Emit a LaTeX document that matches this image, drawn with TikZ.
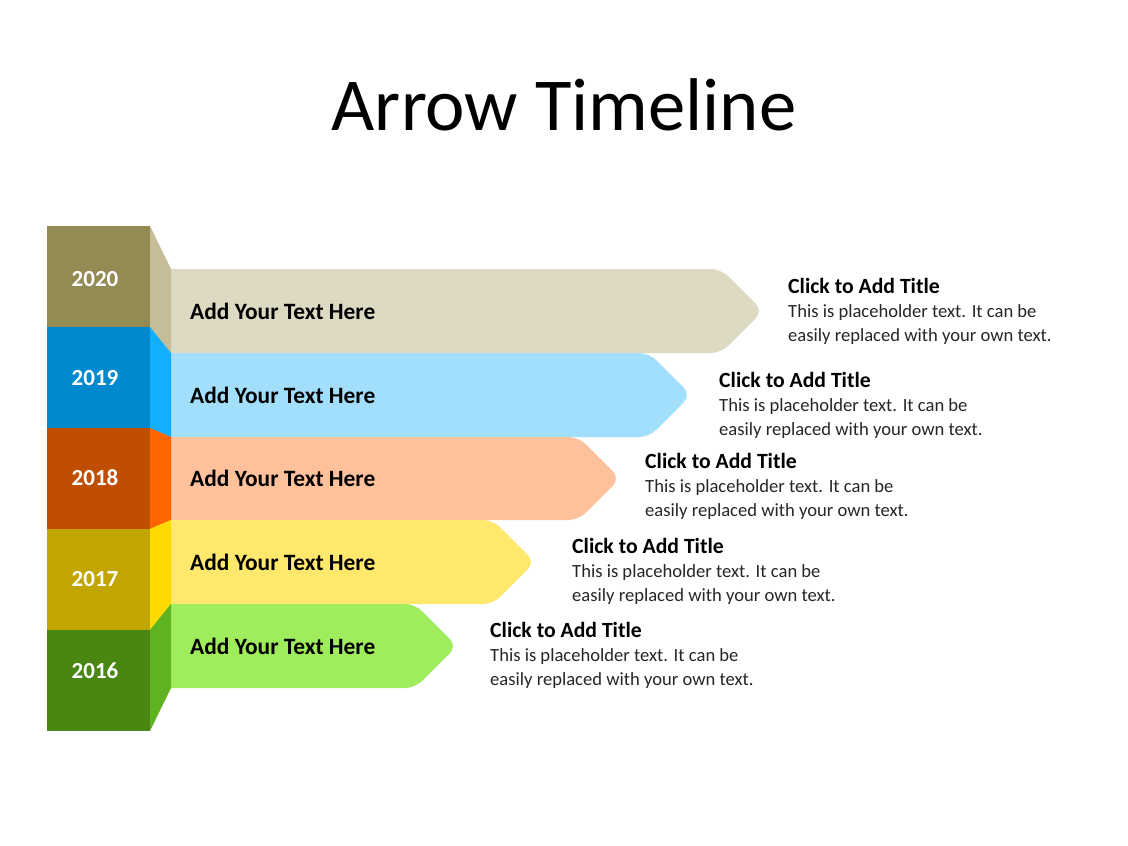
\documentclass[tikz,border=0pt]{standalone}
\usepackage{fontspec}
\setmainfont{Carlito}
\definecolor{darkA}{HTML}{948A54}\definecolor{midA}{HTML}{C4BD97}\definecolor{lightA}{HTML}{DDD9C3}
\definecolor{darkB}{HTML}{0089CF}\definecolor{midB}{HTML}{14AEFF}\definecolor{lightB}{HTML}{A1DFFD}
\definecolor{darkC}{HTML}{C04E00}\definecolor{midC}{HTML}{FF6600}\definecolor{lightC}{HTML}{FFC19B}
\definecolor{darkD}{HTML}{C3A500}\definecolor{midD}{HTML}{FFDA00}\definecolor{lightD}{HTML}{FFE86C}
\definecolor{darkE}{HTML}{4A8612}\definecolor{midE}{HTML}{60B320}\definecolor{lightE}{HTML}{9FEC5C}
\definecolor{desctext}{HTML}{262626}
\tikzset{
  yearlabel/.style={text=white,font=\fontsize{23}{26}\selectfont\bfseries},
  boxtext/.style={anchor=west,inner sep=0pt,font=\fontsize{23.4}{28}\selectfont\bfseries},
  desc/.style={anchor=west,inner sep=0pt,align=left,text=desctext,font=\fontsize{18.6}{24}\selectfont}
}
\begin{document}
\begin{tikzpicture}[x=1pt,y=-1pt]
	\useasboundingbox (0,0) rectangle (1128,846);
	\node[font=\fontsize{74.7}{86}\selectfont,anchor=base] (title) at (564,130) {Arrow Timeline};
	% arrows first
	\foreach \yr/\at/\ab/\tip/\dx/\dy/\c in {2020/269/353/763/788/311/A,2019/353/437/691/719/405/B,2018/437/520/620/645/486/C,2017/520/604/535/572/571/D,2016/604/688/457/490/655/E}{
		\pgfmathsetmacro{\mid}{(\at+\ab)/2}
		\pgfmathsetmacro{\hs}{\tip-(\ab-\at)/2}
		\fill[light\c,rounded corners=10pt] (150,\at) -- (\hs,\at) -- (\tip,\mid) -- (\hs,\ab) -- (150,\ab) -- cycle;
		\node[boxtext] (text\yr) at (190,\mid) {Add Your Text Here};
		\node[desc] (desc\yr) at (\dx,\dy) {{\color{black}\fontsize{21.7}{24}\selectfont\bfseries Click to Add Title}\\This is placeholder text. It can be\\easily replaced with your own text.};
	}
	% side strips and year blocks over them
	\foreach \yr/\bt/\at/\ab/\ly/\c in {2020/226/269/353/279/A,2019/327/353/437/378/B,2018/428/437/520/478/C,2017/529/520/604/579/D,2016/630/604/688/671/E}{
		\pgfmathsetmacro{\bb}{\bt+101}
		\fill[mid\c] (150,\bt) -- (171,\at) -- (171,\ab) -- (150,\bb) -- cycle;
		\fill[dark\c] (47,\bt) rectangle (150,\bb);
		\node[yearlabel] (year\yr) at (95,\ly) {\yr};
	}
\end{tikzpicture}
\end{document}
